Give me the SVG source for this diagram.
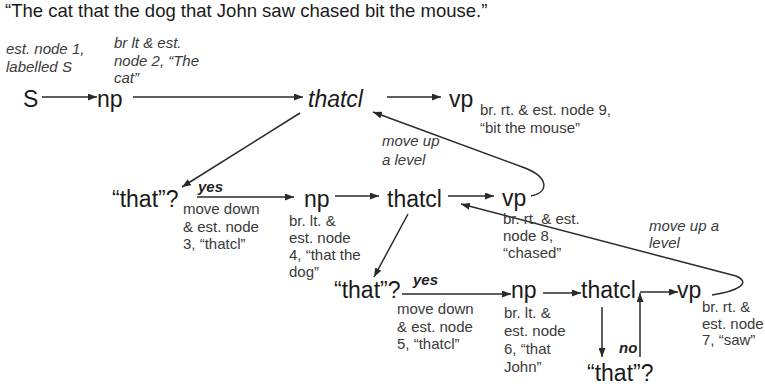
<svg xmlns="http://www.w3.org/2000/svg" width="765" height="386" viewBox="0 0 765 386">
<defs>
<style>
text{font-family:"Liberation Sans",Arial,sans-serif;}
.node{font-size:23px;fill:#1a1a1a;}
.lbl{font-size:15px;fill:#3a3a3a;}
.it{font-style:italic;}
.bi{font-size:15px;font-style:italic;font-weight:bold;fill:#222;}
.title{font-size:18.5px;fill:#1a1a1a;}
.ln{stroke:#2a2a2a;stroke-width:1.5;fill:none;marker-end:url(#ah);}
</style>
<marker id="ah" markerUnits="userSpaceOnUse" markerWidth="9" markerHeight="7" refX="9" refY="3.5" orient="auto">
<path d="M0,0 L9,3.5 L0,7 z" fill="#2a2a2a"/>
</marker>
</defs>
<rect width="765" height="386" fill="#fff"/>
<text class="title" x="5" y="17">“The cat that the dog that John saw chased bit the mouse.”</text>

<g id="connectors">
<line class="ln" x1="42" y1="97" x2="97" y2="97"/>
<line class="ln" x1="133" y1="97" x2="303" y2="97"/>
<line class="ln" x1="387" y1="97" x2="441" y2="97"/>
<line class="ln" x1="300" y1="113" x2="182" y2="187"/>
<path class="ln" d="M531 196 C550 192 548 177 525 168 L373 112"/>
<line class="ln" x1="197" y1="197" x2="294" y2="197"/>
<line class="ln" x1="335" y1="196" x2="379" y2="196"/>
<line class="ln" x1="448" y1="196" x2="494" y2="196"/>
<line class="ln" x1="408" y1="214" x2="374" y2="277"/>
<path class="ln" d="M712 295 C738 291 752 283 736 276 L461 204"/>
<line class="ln" x1="402" y1="294" x2="511" y2="294"/>
<line class="ln" x1="543" y1="293" x2="581" y2="293"/>
<line class="ln" x1="602" y1="307" x2="602" y2="357"/>
<line class="ln" x1="640" y1="357" x2="640" y2="293"/>
<line class="ln" x1="640" y1="292" x2="678" y2="292"/>
</g>

<g id="node1">
<text class="node" x="23" y="107">S</text>
<text class="lbl it"><tspan x="6" y="54">est. node 1,</tspan><tspan x="6" y="72">labelled S</tspan></text>
</g>
<g id="node2">
<text class="node" x="97" y="107">np</text>
<text class="lbl it"><tspan x="114" y="48">br lt &amp; est.</tspan><tspan x="114" y="66">node 2, “The</tspan><tspan x="114" y="83">cat”</tspan></text>
</g>
<g id="thatcl1">
<text class="node it" x="308" y="107">thatcl</text>
</g>
<g id="node9">
<text class="node" x="449" y="107">vp</text>
<text class="lbl"><tspan x="480" y="115">br. rt. &amp; est. node 9,</tspan><tspan x="480" y="133">“bit the mouse”</tspan></text>
</g>
<g id="moveup1">
<text class="lbl it"><tspan x="382" y="146">move up</tspan><tspan x="382" y="165">a level</tspan></text>
</g>

<g id="that2">
<text class="node" x="112" y="207">“that”?</text>
<text class="bi" x="198" y="192">yes</text>
<text class="lbl"><tspan x="183" y="214">move down</tspan><tspan x="183" y="232">&amp; est. node</tspan><tspan x="183" y="249">3, “thatcl”</tspan></text>
</g>
<g id="node4">
<text class="node" x="304" y="207">np</text>
<text class="lbl"><tspan x="289" y="226">br. lt. &amp;</tspan><tspan x="289" y="243">est. node</tspan><tspan x="289" y="260">4, “that the</tspan><tspan x="289" y="277">dog”</tspan></text>
</g>
<g id="node3">
<text class="node" x="387" y="207">thatcl</text>
</g>
<g id="node8">
<text class="node" x="502" y="206">vp</text>
<text class="lbl"><tspan x="503" y="224">br. rt. &amp; est.</tspan><tspan x="503" y="241">node 8,</tspan><tspan x="503" y="258">“chased”</tspan></text>
</g>
<g id="moveup2">
<text class="lbl it"><tspan x="649" y="231">move up a</tspan><tspan x="649" y="248">level</tspan></text>
</g>

<g id="that3">
<text class="node" x="334" y="298">“that”?</text>
<text class="bi" x="413" y="285">yes</text>
<text class="lbl"><tspan x="397" y="314">move down</tspan><tspan x="397" y="332">&amp; est. node</tspan><tspan x="397" y="349">5, “thatcl”</tspan></text>
</g>
<g id="node6">
<text class="node" x="511" y="298">np</text>
<text class="lbl"><tspan x="504" y="318">br. lt. &amp;</tspan><tspan x="504" y="336">est. node</tspan><tspan x="504" y="354">6, “that</tspan><tspan x="504" y="372">John”</tspan></text>
</g>
<g id="node5">
<text class="node" x="581" y="298">thatcl</text>
</g>
<g id="node7">
<text class="node" x="677" y="298">vp</text>
<text class="lbl"><tspan x="702" y="312">br. rt. &amp;</tspan><tspan x="702" y="329">est. node</tspan><tspan x="702" y="345">7, “saw”</tspan></text>
</g>
<g id="that4">
<text class="node" x="587" y="381">“that”?</text>
<text class="bi" x="619" y="353">no</text>
</g>
</svg>
